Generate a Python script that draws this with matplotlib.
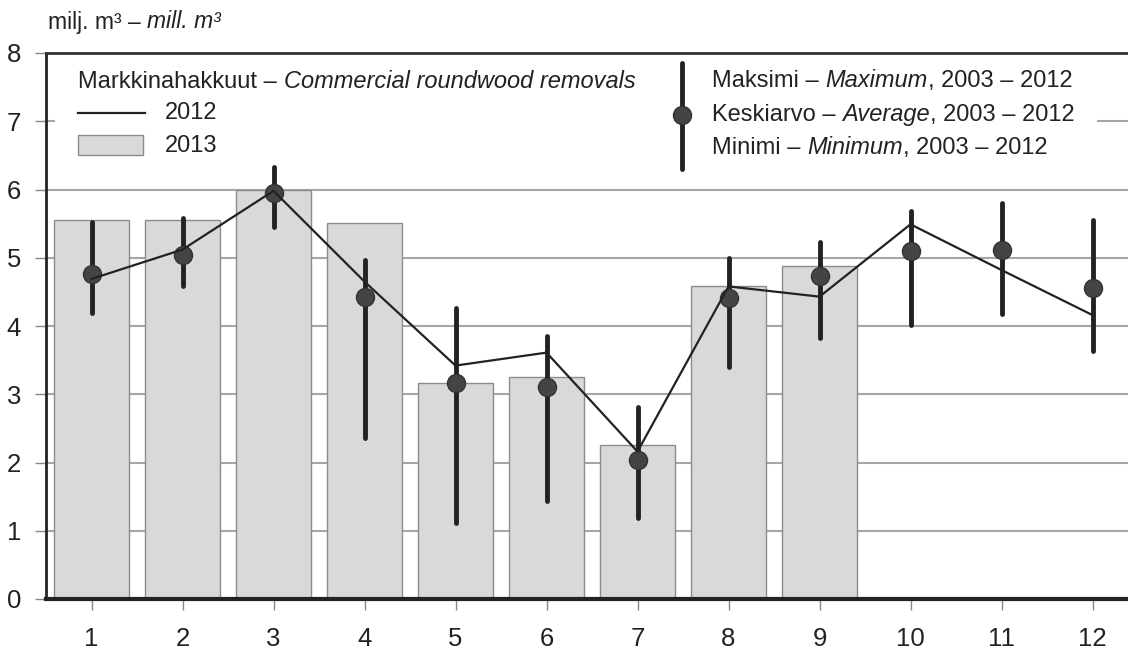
import matplotlib
matplotlib.use('Agg')
import matplotlib.pyplot as plt
from matplotlib.patches import Rectangle
from matplotlib.lines import Line2D

plt.rcParams['font.family'] = ['Liberation Sans', 'DejaVu Sans']

# data
months = [1, 2, 3, 4, 5, 6, 7, 8, 9, 10, 11, 12]
bars_2013 = [5.56, 5.56, 6.0, 5.51, 3.16, 3.25, 2.25, 4.59, 4.88]
line_2012 = [4.69, 5.12, 5.98, 4.65, 3.42, 3.61, 2.16, 4.58, 4.43, 5.49, 4.82, 4.16]
avg_0312 = [4.76, 5.04, 5.95, 4.42, 3.16, 3.10, 2.04, 4.41, 4.73, 5.10, 5.11, 4.56]
max_0312 = [5.52, 5.58, 6.33, 4.96, 4.26, 3.86, 2.81, 5.00, 5.23, 5.69, 5.80, 5.55]
min_0312 = [4.19, 4.58, 5.45, 2.36, 1.12, 1.44, 1.18, 3.40, 3.83, 4.01, 4.18, 3.63]
yticks = [0, 1, 2, 3, 4, 5, 6, 7, 8]

W, H = 1128, 649
FS = 17
fig = plt.figure(figsize=(W / 100, H / 100), dpi=100)
ax = fig.add_axes([46 / W, 50 / H, 1 - 46 / W, (599 - 53) / H])

ax.set_xlim(0.5, 12.39)
ax.set_ylim(0, 8)
ax.set_yticks(yticks)
ax.set_xticks(months)
ax.tick_params(labelsize=18.5, labelcolor='#222222', length=8, width=1, color='#888888')
ax.tick_params(axis='x', pad=12)
ax.tick_params(axis='y', pad=10)

ax.set_axisbelow(True)
ax.grid(axis='y', color='#a6a6a6', linewidth=1.5)
ax.spines['right'].set_visible(False)
ax.spines['left'].set_linewidth(2)
ax.spines['left'].set_color('#222222')
ax.spines['bottom'].set_linewidth(3)
ax.spines['bottom'].set_color('#222222')
ax.spines['top'].set_linewidth(2)
ax.spines['top'].set_color('#333333')

# white area behind the legends
ax.add_patch(Rectangle((0.6, 6.36), 12.05 - 0.6, 7.97 - 6.36, facecolor='white',
                       edgecolor='none', zorder=1))

ax.bar(months[:len(bars_2013)], bars_2013, width=0.82, color='#d9d9d9',
       edgecolor='#8c8c8c', linewidth=1, zorder=2)
vl = ax.vlines(months, min_0312, max_0312, color='#222222', linewidth=3.5, zorder=3)
vl.set_capstyle('round')
ax.plot(months, avg_0312, 'o', markersize=13, markerfacecolor='#444444',
        markeredgecolor='#333333', markeredgewidth=1, zorder=4)
ax.plot(months, line_2012, color='#222222', linewidth=1.6, zorder=5)


def fx(x):
    return x / W


def fy(y):
    return 1 - y / H


def rich(x, y, parts, size=FS):
    last = None
    for txt, style in parts:
        if last is None:
            last = fig.text(fx(x), fy(y), txt, fontsize=size, style=style,
                            ha='left', va='center', color='#222222')
        else:
            last = ax.annotate(txt, xy=(1, 0), xycoords=last, ha='left', va='bottom',
                               fontsize=size, style=style, color='#222222',
                               annotation_clip=False)
    return last


rich(48, 22, [('milj. m³ – ', 'normal'), ('mill. m³', 'italic')], size=16.5)
rich(78, 82, [('Markkinahakkuut – ', 'normal'), ('Commercial roundwood removals', 'italic')])
fig.lines.append(Line2D([fx(78), fx(145)], [fy(113), fy(113)], color='#222222',
                        linewidth=1.6, transform=fig.transFigure))
fig.text(fx(165), fy(113), '2012', fontsize=FS, va='center', color='#222222')
fig.patches.append(Rectangle((fx(78), fy(155)), fx(65), 20 / H, facecolor='#d9d9d9',
                             edgecolor='#8c8c8c', linewidth=1, transform=fig.transFigure))
fig.text(fx(165), fy(146), '2013', fontsize=FS, va='center', color='#222222')

lg = Line2D([fx(682), fx(682)], [fy(63), fy(169)], color='#222222', linewidth=3.5,
            solid_capstyle='round', transform=fig.transFigure)
fig.lines.append(lg)
fig.lines.append(Line2D([fx(682)], [fy(115)], marker='o', markersize=13,
                        markerfacecolor='#444444', markeredgecolor='#333333',
                        transform=fig.transFigure))
rich(712, 81, [('Maksimi – ', 'normal'), ('Maximum', 'italic'), (', 2003 – 2012', 'normal')])
rich(712, 115, [('Keskiarvo – ', 'normal'), ('Average', 'italic'), (', 2003 – 2012', 'normal')])
rich(712, 148, [('Minimi – ', 'normal'), ('Minimum', 'italic'), (', 2003 – 2012', 'normal')])

fig.savefig('out.png', dpi=100)
